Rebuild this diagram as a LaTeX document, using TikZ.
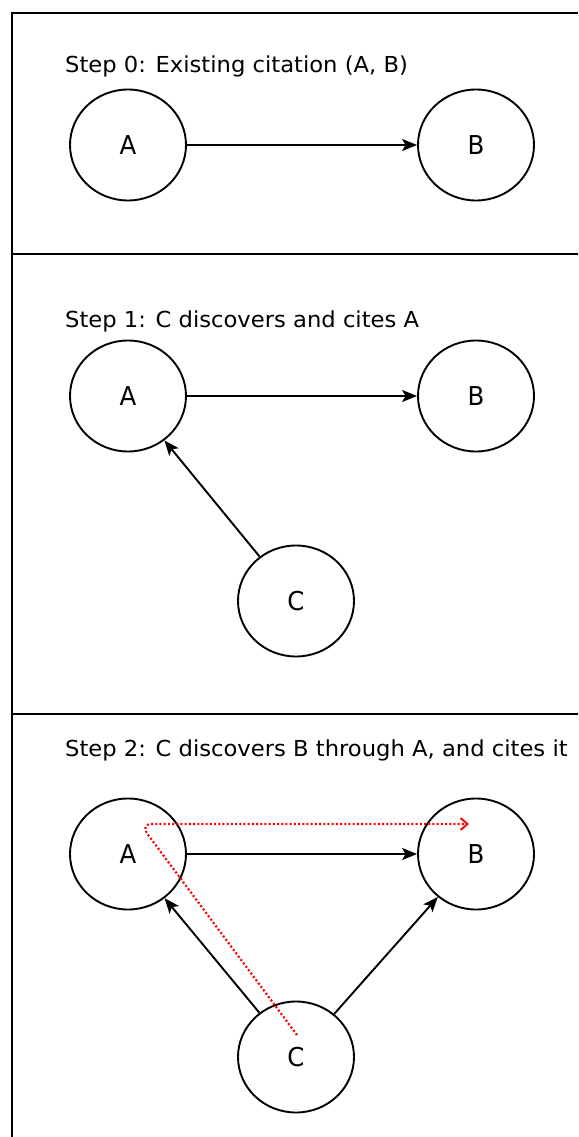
\documentclass[tikz,border=0pt]{standalone}
\usepackage{fontspec}
\setmainfont{DejaVu Sans}
\newfontfamily\steptextfont[FakeStretch=1.03]{DejaVu Sans}
\newfontfamily\nodelabelfont[FakeStretch=0.94]{DejaVu Sans}
\usetikzlibrary{arrows.meta,shapes.geometric}
\begin{document}
\begin{tikzpicture}[x=1pt,y=-1pt,
  frameline/.style={line width=2pt,black},
  paper/.style={ellipse,draw,line width=1.9pt,minimum width=116pt,minimum height=111pt,inner sep=0pt,
    font=\nodelabelfont\fontsize{26pt}{30pt}\selectfont},
  steplabel/.style={anchor=west,inner sep=0pt,font=\steptextfont\fontsize{22pt}{26pt}\selectfont},
  cite/.style={line width=1.9pt,-{Stealth[length=15pt,width=12pt,inset=3.5pt]}},
  trace/.style={red,line width=2.2pt,dash pattern=on 2pt off 2.2pt,rounded corners=12pt,
    -{Straight Barb[length=7pt,width=12pt,line width=1.9pt]}}]
\useasboundingbox (0,0) rectangle (578,1137);
\fill[white] (0,0) rectangle (578,1137);

% panel frame
\draw[frameline] (12,1137) -- (12,13) -- (578,13);
\draw[frameline] (12,254) -- (578,254);
\draw[frameline] (12,714) -- (578,714);

% step 0
\node[steplabel] (t0) at (65,66) {Step 0: Existing citation (A, B)};
\node[paper] (a0) at (128,145) {A};
\node[paper] (b0) at (476,145) {B};
\draw[cite] (a0) -- (b0);

% step 1
\node[steplabel] (t1) at (65,321) {Step 1: C discovers and cites A};
\node[paper] (a1) at (128,396) {A};
\node[paper] (b1) at (476,396) {B};
\node[paper] (c1) at (296,601) {C};
\draw[cite] (a1) -- (b1);
\draw[cite] (c1) -- (a1);

% step 2
\node[steplabel] (t2) at (65,750) {Step 2: C discovers B through A, and cites it};
\node[paper] (a2) at (128,854) {A};
\node[paper] (b2) at (476,854) {B};
\node[paper] (c2) at (296,1057) {C};
\draw[cite] (a2) -- (b2);
\draw[cite] (c2) -- (a2);
\draw[cite] (c2) -- (b2);

% discovery route from C via A to B
\coordinate (rs) at (297,1035);
\coordinate (rk) at (140,824);
\coordinate (re) at (469,824);
\draw[trace] (rs) -- (rk) -- (re);
\end{tikzpicture}
\end{document}
